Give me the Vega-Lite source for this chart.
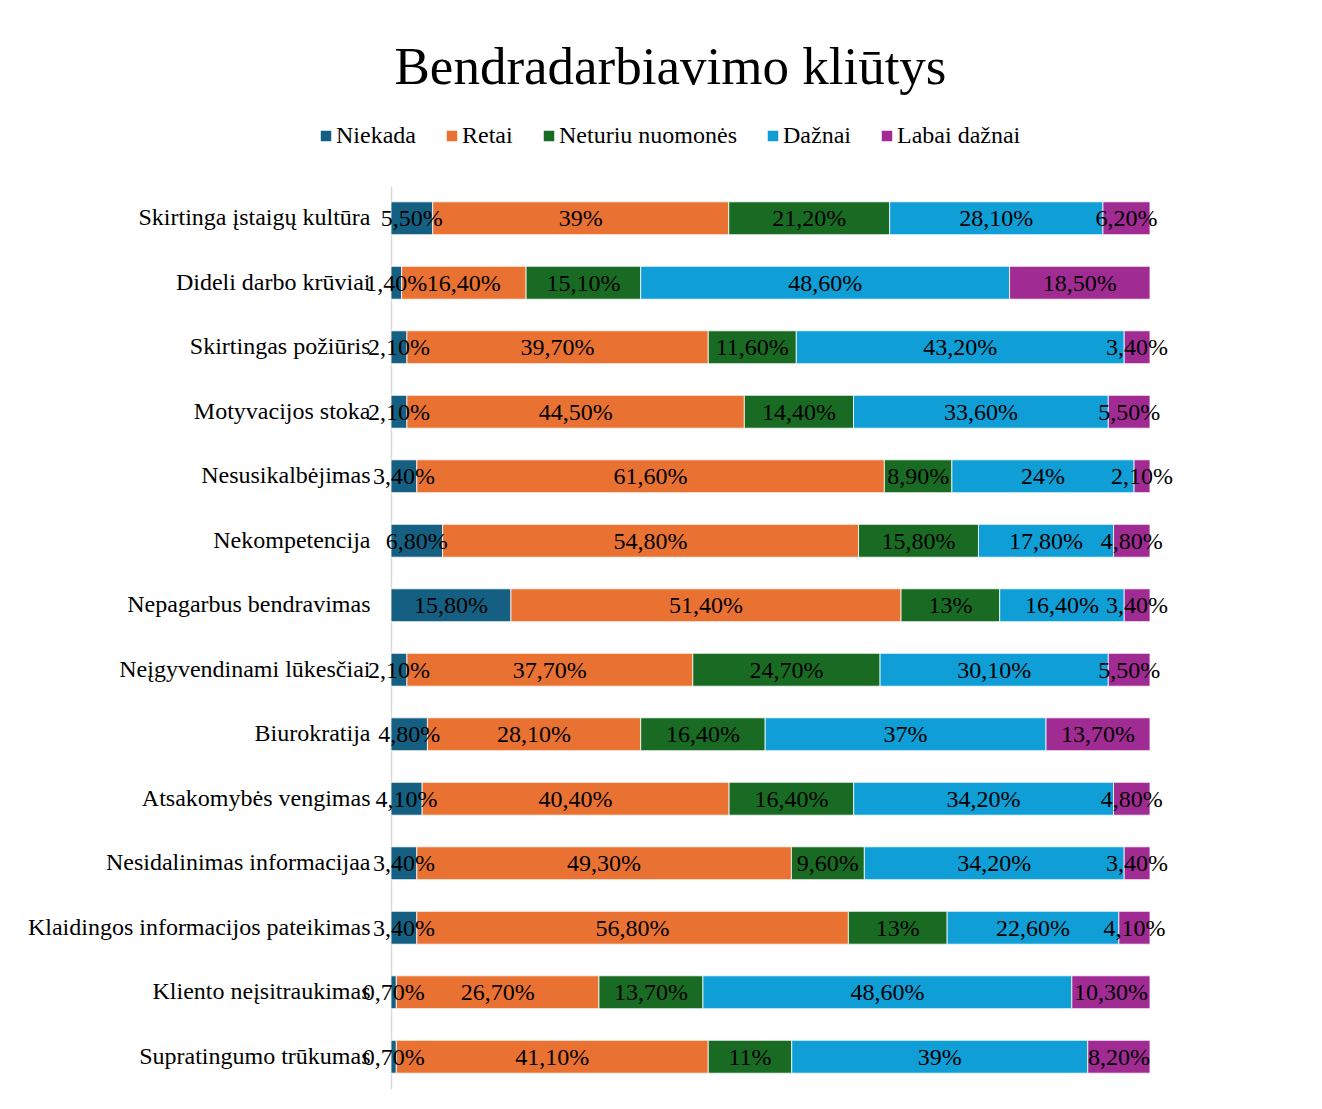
{
  "$schema": "https://vega.github.io/schema/vega-lite/v6.json",
  "autosize": "none",
  "padding": {"left": 391, "top": 186, "right": 172, "bottom": 20},
  "width": 759,
  "height": 903,
  "background": "white",
  "title": {
    "text": "Bendradarbiavimo kliūtys",
    "font": "Liberation Serif",
    "fontSize": 53,
    "fontWeight": "normal",
    "color": "black",
    "anchor": "middle",
    "frame": "group",
    "baseline": "alphabetic",
    "dx": -100,
    "offset": -13
  },
  "config": {
    "view": {"stroke": null},
    "font": "Liberation Serif"
  },
  "data": {
    "values": [
      {"cat": "Skirtinga įstaigų kultūra", "resp": "Niekada", "v": 5.5, "label": "5,50%"},
      {"cat": "Skirtinga įstaigų kultūra", "resp": "Retai", "v": 39, "label": "39%"},
      {"cat": "Skirtinga įstaigų kultūra", "resp": "Neturiu nuomonės", "v": 21.2, "label": "21,20%"},
      {"cat": "Skirtinga įstaigų kultūra", "resp": "Dažnai", "v": 28.1, "label": "28,10%"},
      {"cat": "Skirtinga įstaigų kultūra", "resp": "Labai dažnai", "v": 6.2, "label": "6,20%"},
      {"cat": "Dideli darbo krūviai", "resp": "Niekada", "v": 1.4, "label": "1,40%"},
      {"cat": "Dideli darbo krūviai", "resp": "Retai", "v": 16.4, "label": "16,40%"},
      {"cat": "Dideli darbo krūviai", "resp": "Neturiu nuomonės", "v": 15.1, "label": "15,10%"},
      {"cat": "Dideli darbo krūviai", "resp": "Dažnai", "v": 48.6, "label": "48,60%"},
      {"cat": "Dideli darbo krūviai", "resp": "Labai dažnai", "v": 18.5, "label": "18,50%"},
      {"cat": "Skirtingas požiūris", "resp": "Niekada", "v": 2.1, "label": "2,10%"},
      {"cat": "Skirtingas požiūris", "resp": "Retai", "v": 39.7, "label": "39,70%"},
      {"cat": "Skirtingas požiūris", "resp": "Neturiu nuomonės", "v": 11.6, "label": "11,60%"},
      {"cat": "Skirtingas požiūris", "resp": "Dažnai", "v": 43.2, "label": "43,20%"},
      {"cat": "Skirtingas požiūris", "resp": "Labai dažnai", "v": 3.4, "label": "3,40%"},
      {"cat": "Motyvacijos stoka", "resp": "Niekada", "v": 2.1, "label": "2,10%"},
      {"cat": "Motyvacijos stoka", "resp": "Retai", "v": 44.5, "label": "44,50%"},
      {"cat": "Motyvacijos stoka", "resp": "Neturiu nuomonės", "v": 14.4, "label": "14,40%"},
      {"cat": "Motyvacijos stoka", "resp": "Dažnai", "v": 33.6, "label": "33,60%"},
      {"cat": "Motyvacijos stoka", "resp": "Labai dažnai", "v": 5.5, "label": "5,50%"},
      {"cat": "Nesusikalbėjimas", "resp": "Niekada", "v": 3.4, "label": "3,40%"},
      {"cat": "Nesusikalbėjimas", "resp": "Retai", "v": 61.6, "label": "61,60%"},
      {"cat": "Nesusikalbėjimas", "resp": "Neturiu nuomonės", "v": 8.9, "label": "8,90%"},
      {"cat": "Nesusikalbėjimas", "resp": "Dažnai", "v": 24, "label": "24%"},
      {"cat": "Nesusikalbėjimas", "resp": "Labai dažnai", "v": 2.1, "label": "2,10%"},
      {"cat": "Nekompetencija", "resp": "Niekada", "v": 6.8, "label": "6,80%"},
      {"cat": "Nekompetencija", "resp": "Retai", "v": 54.8, "label": "54,80%"},
      {"cat": "Nekompetencija", "resp": "Neturiu nuomonės", "v": 15.8, "label": "15,80%"},
      {"cat": "Nekompetencija", "resp": "Dažnai", "v": 17.8, "label": "17,80%"},
      {"cat": "Nekompetencija", "resp": "Labai dažnai", "v": 4.8, "label": "4,80%"},
      {"cat": "Nepagarbus bendravimas", "resp": "Niekada", "v": 15.8, "label": "15,80%"},
      {"cat": "Nepagarbus bendravimas", "resp": "Retai", "v": 51.4, "label": "51,40%"},
      {"cat": "Nepagarbus bendravimas", "resp": "Neturiu nuomonės", "v": 13, "label": "13%"},
      {"cat": "Nepagarbus bendravimas", "resp": "Dažnai", "v": 16.4, "label": "16,40%"},
      {"cat": "Nepagarbus bendravimas", "resp": "Labai dažnai", "v": 3.4, "label": "3,40%"},
      {"cat": "Neįgyvendinami lūkesčiai", "resp": "Niekada", "v": 2.1, "label": "2,10%"},
      {"cat": "Neįgyvendinami lūkesčiai", "resp": "Retai", "v": 37.7, "label": "37,70%"},
      {"cat": "Neįgyvendinami lūkesčiai", "resp": "Neturiu nuomonės", "v": 24.7, "label": "24,70%"},
      {"cat": "Neįgyvendinami lūkesčiai", "resp": "Dažnai", "v": 30.1, "label": "30,10%"},
      {"cat": "Neįgyvendinami lūkesčiai", "resp": "Labai dažnai", "v": 5.5, "label": "5,50%"},
      {"cat": "Biurokratija", "resp": "Niekada", "v": 4.8, "label": "4,80%"},
      {"cat": "Biurokratija", "resp": "Retai", "v": 28.1, "label": "28,10%"},
      {"cat": "Biurokratija", "resp": "Neturiu nuomonės", "v": 16.4, "label": "16,40%"},
      {"cat": "Biurokratija", "resp": "Dažnai", "v": 37, "label": "37%"},
      {"cat": "Biurokratija", "resp": "Labai dažnai", "v": 13.7, "label": "13,70%"},
      {"cat": "Atsakomybės vengimas", "resp": "Niekada", "v": 4.1, "label": "4,10%"},
      {"cat": "Atsakomybės vengimas", "resp": "Retai", "v": 40.4, "label": "40,40%"},
      {"cat": "Atsakomybės vengimas", "resp": "Neturiu nuomonės", "v": 16.4, "label": "16,40%"},
      {"cat": "Atsakomybės vengimas", "resp": "Dažnai", "v": 34.2, "label": "34,20%"},
      {"cat": "Atsakomybės vengimas", "resp": "Labai dažnai", "v": 4.8, "label": "4,80%"},
      {"cat": "Nesidalinimas informacijaa", "resp": "Niekada", "v": 3.4, "label": "3,40%"},
      {"cat": "Nesidalinimas informacijaa", "resp": "Retai", "v": 49.3, "label": "49,30%"},
      {"cat": "Nesidalinimas informacijaa", "resp": "Neturiu nuomonės", "v": 9.6, "label": "9,60%"},
      {"cat": "Nesidalinimas informacijaa", "resp": "Dažnai", "v": 34.2, "label": "34,20%"},
      {"cat": "Nesidalinimas informacijaa", "resp": "Labai dažnai", "v": 3.4, "label": "3,40%"},
      {"cat": "Klaidingos informacijos pateikimas", "resp": "Niekada", "v": 3.4, "label": "3,40%"},
      {"cat": "Klaidingos informacijos pateikimas", "resp": "Retai", "v": 56.8, "label": "56,80%"},
      {"cat": "Klaidingos informacijos pateikimas", "resp": "Neturiu nuomonės", "v": 13, "label": "13%"},
      {"cat": "Klaidingos informacijos pateikimas", "resp": "Dažnai", "v": 22.6, "label": "22,60%"},
      {"cat": "Klaidingos informacijos pateikimas", "resp": "Labai dažnai", "v": 4.1, "label": "4,10%"},
      {"cat": "Kliento neįsitraukimas", "resp": "Niekada", "v": 0.7, "label": "0,70%"},
      {"cat": "Kliento neįsitraukimas", "resp": "Retai", "v": 26.7, "label": "26,70%"},
      {"cat": "Kliento neįsitraukimas", "resp": "Neturiu nuomonės", "v": 13.7, "label": "13,70%"},
      {"cat": "Kliento neįsitraukimas", "resp": "Dažnai", "v": 48.6, "label": "48,60%"},
      {"cat": "Kliento neįsitraukimas", "resp": "Labai dažnai", "v": 10.3, "label": "10,30%"},
      {"cat": "Supratingumo trūkumas", "resp": "Niekada", "v": 0.7, "label": "0,70%"},
      {"cat": "Supratingumo trūkumas", "resp": "Retai", "v": 41.1, "label": "41,10%"},
      {"cat": "Supratingumo trūkumas", "resp": "Neturiu nuomonės", "v": 11, "label": "11%"},
      {"cat": "Supratingumo trūkumas", "resp": "Dažnai", "v": 39, "label": "39%"},
      {"cat": "Supratingumo trūkumas", "resp": "Labai dažnai", "v": 8.2, "label": "8,20%"}
    ]
  },
  "transform": [
    {"stack": "v", "groupby": ["cat"], "offset": "normalize", "as": ["x0", "x1"]},
    {"calculate": "(datum.x0 + datum.x1) / 2", "as": "xm"}
  ],
  "encoding": {
    "y": {
      "field": "cat",
      "type": "nominal",
      "sort": null,
      "title": null,
      "scale": {"paddingInner": 0.49, "paddingOuter": 0.245},
      "axis": {
        "domain": true,
        "domainColor": "#d9d9d9",
        "domainWidth": 1.5,
        "ticks": false,
        "labelPadding": 21,
        "labelFont": "Liberation Serif",
        "labelFontSize": 24,
        "labelColor": "black",
        "labelLimit": 500
      }
    }
  },
  "layer": [
    {
      "mark": {"type": "bar", "stroke": "white", "strokeWidth": 0.8},
      "encoding": {
        "x": {"field": "x0", "type": "quantitative", "scale": {"domain": [0, 1]}, "axis": null},
        "x2": {"field": "x1"},
        "color": {
          "field": "resp",
          "type": "nominal",
          "scale": {
            "domain": ["Niekada", "Retai", "Neturiu nuomonės", "Dažnai", "Labai dažnai"],
            "range": ["#156082", "#E97132", "#196B24", "#0F9ED5", "#A02B93"]
          },
          "legend": {
            "title": null,
            "orient": "none",
            "direction": "horizontal",
            "legendX": -77,
            "legendY": -62,
            "symbolType": "square",
            "symbolSize": 110,
            "symbolStrokeWidth": 0,
            "labelFont": "Liberation Serif",
            "labelFontSize": 24,
            "labelColor": "black",
            "labelOffset": -2,
            "columnPadding": 24,
            "labelLimit": 400
          }
        }
      }
    },
    {
      "mark": {"type": "text", "font": "Liberation Serif", "fontSize": 24, "color": "black", "align": "center", "baseline": "middle", "dy": 1},
      "encoding": {
        "x": {"field": "xm", "type": "quantitative", "scale": {"domain": [0, 1]}},
        "text": {"field": "label"}
      }
    }
  ]
}
